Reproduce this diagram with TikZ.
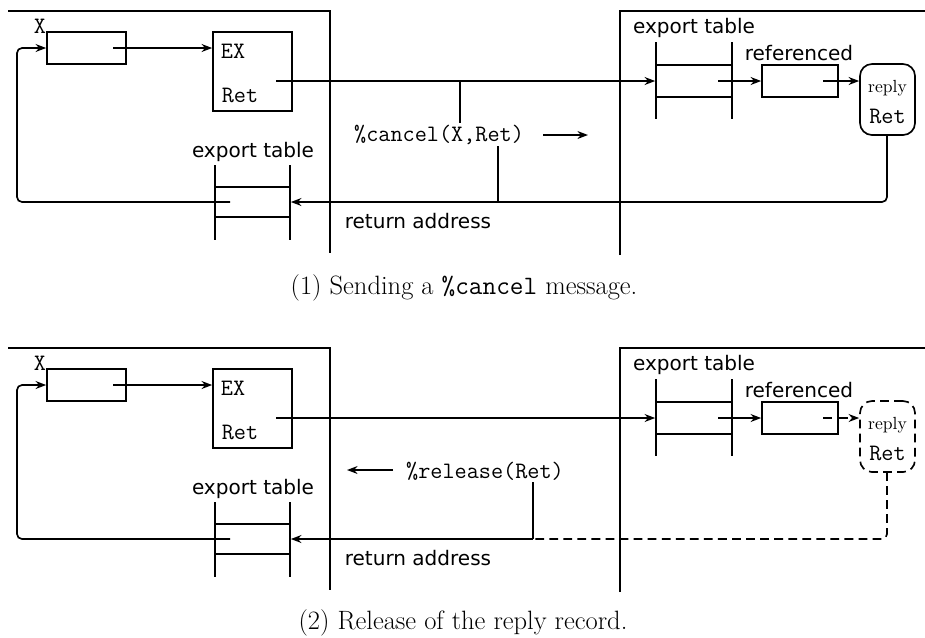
\documentclass[tikz,border=0pt]{standalone}
\usepackage{fontspec}
\newfontfamily\labelsans{DejaVu Sans}
\usetikzlibrary{arrows.meta}
\begin{document}
\begin{tikzpicture}[x=0.02cm,y=-0.02cm,
  line width=0.95pt,
  tip/.style={-{Stealth[length=6pt,width=4.5pt]}},
  cell/.style={draw,rectangle,minimum width=#1*0.02cm,minimum height=32*0.02cm,inner sep=0pt},
  cell/.default=79,
  hole/.style={rectangle,minimum width=75*0.02cm,minimum height=30*0.02cm,inner sep=0pt},
  sanslbl/.style={font=\labelsans\fontsize{11.4}{13}\selectfont,inner sep=0pt},
  ttlbl/.style={font=\ttfamily\fontsize{13.4}{15}\selectfont,inner sep=0pt},
  caplbl/.style={font=\fontsize{15.1}{18}\selectfont,inner sep=0pt},
  replybox/.style={draw,rectangle,rounded corners=12*0.02cm,minimum width=55*0.02cm,minimum height=71*0.02cm,inner sep=0pt},
  rc/.style={rounded corners=5*0.02cm}]
\useasboundingbox (0,0) rectangle (925,637);

% ---------- two panels, identical structure, vertical offset 337 ----------
\foreach \p/\oy in {1/0,2/337}{
  \begin{scope}[yshift=-\oy*0.02cm]
    % site frames
    \draw (8,11) -- (330,11) -- (330,253);
    \draw (620,255) -- (620,11) -- (925,11);
    % local side
    \node[cell] (xb\p) at (86.5,48) {};
    \node[ttlbl] (xl\p) at (40,26) {X};
    \node[draw,rectangle,minimum width=79*0.02cm,minimum height=79*0.02cm,inner sep=0pt] (ex\p) at (252.5,71.5) {};
    \node[ttlbl] at (233,51) {EX};
    \node[ttlbl] at (240,95) {Ret};
    % local export table
    \node[hole] (etl\p) at (252.5,202) {};
    \draw (215,165) -- (215,240);
    \draw (290,165) -- (290,240);
    \draw (215,187) -- (290,187);
    \draw (215,217) -- (290,217);
    \node[sanslbl] at (253,152) {export table};
    % remote export table
    \node[hole,minimum width=76*0.02cm] (etr\p) at (694,81) {};
    \draw (656,42) -- (656,119);
    \draw (732,42) -- (732,119);
    \draw (656,65) -- (732,65);
    \draw (656,97) -- (732,97);
    \node[sanslbl] at (694,28) {export table};
    % referenced record
    \node[cell=76] (rf\p) at (800,81) {};
    \node[sanslbl] at (799,53) {referenced};
    \node[sanslbl] (ra\p) at (418,221) {return address};
    % links on the local side
    \coordinate (xs\p) at (113,48);
    \draw[tip] (xs\p) -- (ex\p.west |- xs\p);
    \coordinate (es\p) at (276,81);
    \draw[tip] (es\p) -- (etr\p.west);
    \coordinate (ls\p) at (230,202);
    \draw[tip,rc] (ls\p) -- (17,202) -- (17,48) -- (xb\p.west);
    \coordinate (ts\p) at (718,81);
    \draw[tip] (ts\p) -- (rf\p.west);
  \end{scope}
}

% ---------- panel 1: sending %cancel ----------
\node[replybox] (rp1) at (887.5,99.5) {};
\node[font=\fontsize{10}{12}\selectfont,inner sep=0pt] at (887.5,88) {reply};
\node[ttlbl] at (887.5,116) {Ret};
\coordinate (rs1) at (823,81);
\draw[tip] (rs1) -- (rp1.west |- rs1);
\draw[tip,rc] (rp1.south -| 887,0) -- (887,202) -- (etl1.east);

\node[ttlbl] (cm) at (439,135) {\%cancel(X,Ret)};
\draw (460,81) -- (460,123);
\draw (498,146) -- (498,202);
\coordinate (ca1) at (543,135);
\coordinate (ca2) at (588,135);
\draw[tip] (ca1) -- (ca2);

\node[caplbl] at (464,288) {(1) Sending a {\ttfamily\%cancel} message.};

% ---------- panel 2: releasing the reply record ----------
\node[replybox,dashed,dash pattern=on 5pt off 3pt] (rp2) at (887.5,436.5) {};
\node[font=\fontsize{10}{12}\selectfont,inner sep=0pt] at (887.5,425) {reply};
\node[ttlbl] at (887.5,453) {Ret};
\coordinate (rs2) at (823,418);
\draw[tip,dash pattern=on 5pt off 4pt] (rs2) -- (rp2.west |- rs2);
\coordinate (jn) at (533,539);
\draw[rc,dash pattern=on 5pt off 3pt] (887,472) -- (887,539) -- (jn);
\draw[tip] (jn) -- (etl2.east);
\draw (533,482) -- (jn);

\node[ttlbl] (rl) at (485,471) {\%release(Ret)};
\coordinate (ra1) at (393,470);
\coordinate (ra2) at (347,470);
\draw[tip] (ra1) -- (ra2);

\node[caplbl] at (463,623) {(2) Release of the reply record.};
\end{tikzpicture}
\end{document}
